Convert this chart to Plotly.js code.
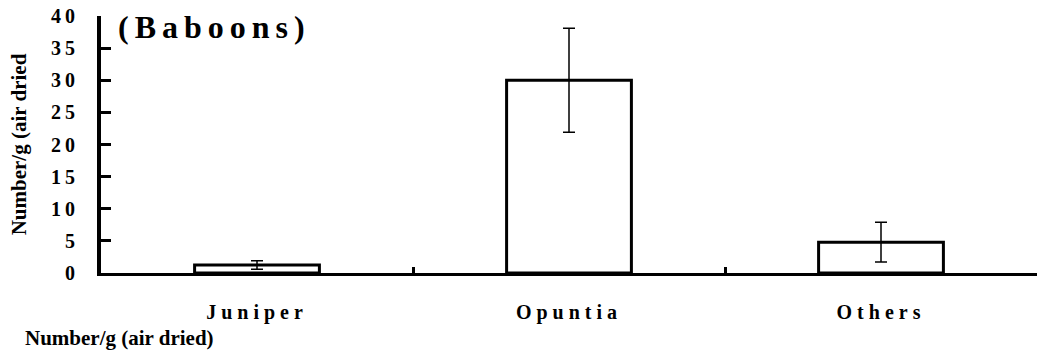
<!DOCTYPE html>
<html>
<head>
<meta charset="utf-8">
<script src="https://cdn.plot.ly/plotly-3.0.1.min.js"></script>
<style>
  html, body { margin: 0; padding: 0; background: #fff; }
  #chart { width: 1037px; height: 352px; }
  .ytick text { letter-spacing: 4px; }
  .xtick text { letter-spacing: 5px; }
  .gtitle { letter-spacing: 6px; }
</style>
</head>
<body>
<div id="chart"></div>
<script>
const categories = ["Juniper", "Opuntia", "Others"];
const values = [1.25, 30, 4.8];
const errors = [0.65, 8.1, 3.1];
const yTicks = [0, 5, 10, 15, 20, 25, 30, 35, 40];
const chartTitle = "(Baboons)";
const yTitle = "Number/g (air dried";
const xNote = "Number/g (air dried)";

const font = "'Liberation Serif', 'Times New Roman', serif";

const trace = {
  type: "bar",
  x: categories,
  y: values,
  width: 0.4,
  marker: { color: "#ffffff", line: { color: "#000000", width: 3 } },
  error_y: { type: "data", array: errors, visible: true, color: "#000000", thickness: 1.5, width: 6 },
  hoverinfo: "none"
};

const plotL = 101, plotR = 0, plotT = 16, plotB = 79;
const plotW = 1037 - plotL - plotR;
const plotH = 352 - plotT - plotB;

const layout = {
  width: 1037,
  height: 352,
  margin: { l: plotL, r: plotR, t: plotT, b: plotB },
  paper_bgcolor: "#ffffff",
  plot_bgcolor: "#ffffff",
  showlegend: false,
  font: { family: font, color: "#000000" },
  title: {
    text: chartTitle,
    font: { family: font, size: 32, weight: "bold", color: "#000000" },
    xref: "container", yref: "container",
    x: 118 / 1037, xanchor: "left",
    y: 1 - 27 / 352, yanchor: "middle"
  },
  xaxis: {
    type: "category",
    range: [-0.5, 2.5],
    showline: true, linecolor: "#000000", linewidth: 3,
    showgrid: false, zeroline: false,
    ticks: "inside", tickson: "boundaries", ticklen: 6, tickwidth: 3, tickcolor: "#000000",
    tickfont: { family: font, size: 20, weight: "bold", color: "#000000" },
    ticklabelstandoff: 19
  },
  yaxis: {
    range: [0, 40],
    tickvals: yTicks,
    ticktext: yTicks.map(String),
    showline: true, linecolor: "#000000", linewidth: 4,
    showgrid: false, zeroline: false,
    ticks: "inside", ticklen: 10, tickwidth: 3, tickcolor: "#000000",
    tickfont: { family: font, size: 20, weight: "bold", color: "#000000" },
    ticklabelstandoff: 14,
    title: {
      text: yTitle,
      font: { family: font, size: 21, weight: "bold", color: "#000000" },
      standoff: 20
    }
  },
  annotations: [{
    text: xNote,
    xref: "paper", yref: "paper",
    x: (23 - plotL) / plotW, xanchor: "left",
    y: (352 - plotB - 338) / plotH, yanchor: "middle",
    showarrow: false,
    font: { family: font, size: 21, weight: "bold", color: "#000000" }
  }]
};

Plotly.newPlot("chart", [trace], layout, { displayModeBar: false, staticPlot: true });
</script>
</body>
</html>
